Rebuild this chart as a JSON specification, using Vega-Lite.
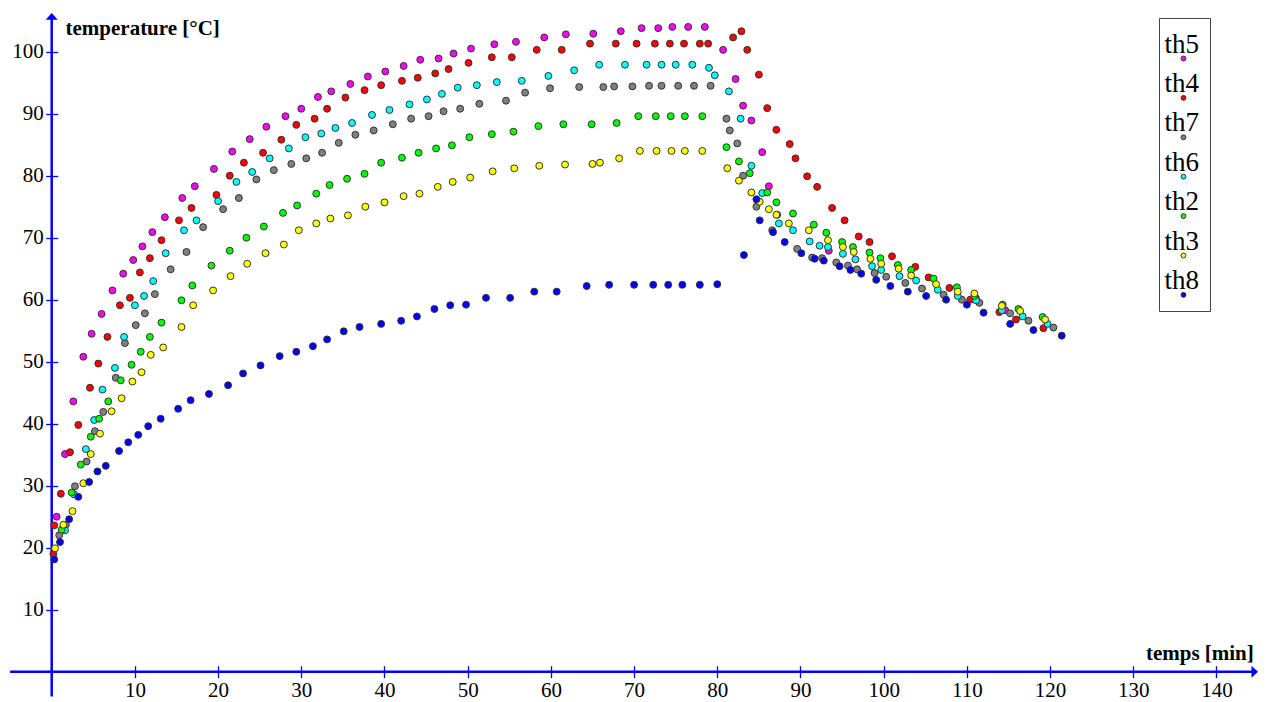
{
 "$schema": "https://vega.github.io/schema/vega-lite/v6.json",
 "width": 1267, "height": 702, "padding": 0, "autosize": {"type": "none"},
 "background": "white",
 "config": {"view": {"stroke": null}, "font": "Liberation Serif", "axis": {"grid": false}},
 "layer": [
  {
   "data": {"values": [{}]},
   "mark": {"type": "rule", "color": "#0000ff", "strokeWidth": 2.5},
   "encoding": {
    "x": {"datum": -5, "type": "quantitative"},
    "x2": {"datum": 144.6},
    "y": {"datum": 0, "type": "quantitative"}
   }
  },
  {
   "data": {"values": [{}]},
   "mark": {"type": "rule", "color": "#0000ff", "strokeWidth": 2.5},
   "encoding": {
    "x": {"datum": 0, "type": "quantitative"},
    "y": {"datum": -4, "type": "quantitative"},
    "y2": {"datum": 105.7}
   }
  },
  {
   "data": {"values": [{}]},
   "mark": {"type": "point", "filled": true, "color": "#0000ff", "opacity": 1, "size": 144, "shape": "M-0.55,-1L0.55,0L-0.55,1Z"},
   "encoding": {
    "x": {"datum": 144.6, "type": "quantitative"},
    "y": {"datum": 0, "type": "quantitative"}
   }
  },
  {
   "data": {"values": [{}]},
   "mark": {"type": "point", "filled": true, "color": "#0000ff", "opacity": 1, "size": 144, "shape": "M-1,0.55L0,-0.55L1,0.55Z"},
   "encoding": {
    "x": {"datum": 0, "type": "quantitative"},
    "y": {"datum": 105.7, "type": "quantitative"}
   }
  },
  {
   "data": {"values": [
{"s":"th5","t":0.6,"T":25.0},{"s":"th5","t":1.6,"T":35.1},{"s":"th5","t":2.6,"T":43.6},{"s":"th5","t":3.8,"T":50.8},{"s":"th5","t":4.8,"T":54.5},{"s":"th5","t":6.0,"T":57.7},{"s":"th5","t":7.3,"T":61.5},{"s":"th5","t":8.6,"T":64.2},{"s":"th5","t":9.8,"T":66.4},{"s":"th5","t":10.9,"T":68.6},{"s":"th5","t":12.1,"T":70.9},{"s":"th5","t":13.6,"T":73.3},{"s":"th5","t":15.7,"T":76.4},{"s":"th5","t":17.2,"T":78.3},{"s":"th5","t":19.5,"T":81.1},{"s":"th5","t":21.7,"T":83.9},{"s":"th5","t":23.8,"T":85.9},{"s":"th5","t":25.8,"T":87.9},{"s":"th5","t":28.1,"T":89.6},{"s":"th5","t":30.0,"T":90.8},{"s":"th5","t":32.0,"T":92.7},{"s":"th5","t":33.6,"T":93.6},{"s":"th5","t":35.9,"T":94.8},{"s":"th5","t":38.0,"T":96.0},{"s":"th5","t":40.1,"T":96.8},{"s":"th5","t":42.3,"T":97.7},{"s":"th5","t":44.3,"T":98.7},{"s":"th5","t":46.5,"T":98.9},{"s":"th5","t":48.3,"T":99.7},{"s":"th5","t":50.4,"T":100.5},{"s":"th5","t":53.2,"T":101.2},{"s":"th5","t":55.8,"T":101.6},{"s":"th5","t":59.2,"T":102.3},{"s":"th5","t":61.8,"T":102.8},{"s":"th5","t":65.1,"T":102.9},{"s":"th5","t":68.4,"T":103.3},{"s":"th5","t":70.9,"T":103.8},{"s":"th5","t":72.9,"T":103.8},{"s":"th5","t":74.6,"T":104.0},{"s":"th5","t":76.5,"T":104.0},{"s":"th5","t":78.5,"T":104.0},{"s":"th5","t":80.7,"T":100.3},{"s":"th5","t":82.2,"T":95.6},{"s":"th5","t":83.1,"T":91.3},{"s":"th5","t":84.1,"T":88.9},{"s":"th5","t":85.4,"T":83.8},{"s":"th5","t":86.2,"T":78.3},{"s":"th5","t":87.2,"T":73.7},{"s":"th5","t":93.4,"T":67.9},{"s":"th5","t":111.1,"T":60.2},{"s":"th5","t":114.6,"T":58.3},
{"s":"th4","t":0.2,"T":19.0},{"s":"th4","t":0.3,"T":23.6},{"s":"th4","t":1.1,"T":28.7},{"s":"th4","t":2.2,"T":35.4},{"s":"th4","t":3.2,"T":39.8},{"s":"th4","t":4.6,"T":45.8},{"s":"th4","t":5.6,"T":49.7},{"s":"th4","t":6.7,"T":54.0},{"s":"th4","t":8.2,"T":59.1},{"s":"th4","t":9.4,"T":60.3},{"s":"th4","t":10.6,"T":64.4},{"s":"th4","t":11.8,"T":66.7},{"s":"th4","t":13.2,"T":69.6},{"s":"th4","t":15.3,"T":72.8},{"s":"th4","t":16.8,"T":74.8},{"s":"th4","t":19.8,"T":76.9},{"s":"th4","t":21.4,"T":80.0},{"s":"th4","t":23.1,"T":82.1},{"s":"th4","t":25.4,"T":83.7},{"s":"th4","t":27.6,"T":85.8},{"s":"th4","t":29.4,"T":88.2},{"s":"th4","t":31.6,"T":89.2},{"s":"th4","t":33.1,"T":90.8},{"s":"th4","t":35.3,"T":92.6},{"s":"th4","t":37.6,"T":93.8},{"s":"th4","t":39.6,"T":94.6},{"s":"th4","t":42.1,"T":95.3},{"s":"th4","t":44.0,"T":95.8},{"s":"th4","t":46.1,"T":96.5},{"s":"th4","t":47.7,"T":97.2},{"s":"th4","t":50.1,"T":98.2},{"s":"th4","t":52.9,"T":99.1},{"s":"th4","t":55.3,"T":99.1},{"s":"th4","t":58.3,"T":100.3},{"s":"th4","t":61.3,"T":100.3},{"s":"th4","t":64.7,"T":101.3},{"s":"th4","t":67.8,"T":101.3},{"s":"th4","t":70.3,"T":101.3},{"s":"th4","t":72.5,"T":101.3},{"s":"th4","t":74.3,"T":101.3},{"s":"th4","t":76.0,"T":101.3},{"s":"th4","t":77.9,"T":101.3},{"s":"th4","t":78.9,"T":101.3},{"s":"th4","t":81.9,"T":102.3},{"s":"th4","t":82.9,"T":103.3},{"s":"th4","t":83.6,"T":100.3},{"s":"th4","t":85.0,"T":96.3},{"s":"th4","t":86.0,"T":90.9},{"s":"th4","t":87.1,"T":87.4},{"s":"th4","t":88.7,"T":85.1},{"s":"th4","t":89.4,"T":82.8},{"s":"th4","t":90.8,"T":79.9},{"s":"th4","t":92.0,"T":78.2},{"s":"th4","t":93.8,"T":74.8},{"s":"th4","t":95.3,"T":72.8},{"s":"th4","t":97.0,"T":70.2},{"s":"th4","t":98.3,"T":69.3},{"s":"th4","t":101.0,"T":67.0},{"s":"th4","t":103.8,"T":65.3},{"s":"th4","t":105.4,"T":63.6},{"s":"th4","t":107.9,"T":61.9},{"s":"th4","t":110.4,"T":60.0},{"s":"th4","t":113.9,"T":58.0},{"s":"th4","t":115.9,"T":56.8},{"s":"th4","t":119.2,"T":55.4},
{"s":"th7","t":0.9,"T":22.0},{"s":"th7","t":1.7,"T":23.7},{"s":"th7","t":2.8,"T":29.9},{"s":"th7","t":4.2,"T":33.9},{"s":"th7","t":5.2,"T":38.8},{"s":"th7","t":6.2,"T":41.9},{"s":"th7","t":7.7,"T":47.4},{"s":"th7","t":8.8,"T":53.0},{"s":"th7","t":10.1,"T":55.9},{"s":"th7","t":11.2,"T":57.8},{"s":"th7","t":12.4,"T":60.9},{"s":"th7","t":14.3,"T":64.9},{"s":"th7","t":16.2,"T":67.7},{"s":"th7","t":18.2,"T":71.7},{"s":"th7","t":20.6,"T":74.6},{"s":"th7","t":22.5,"T":76.4},{"s":"th7","t":24.6,"T":79.4},{"s":"th7","t":26.7,"T":80.9},{"s":"th7","t":28.8,"T":81.9},{"s":"th7","t":30.6,"T":82.8},{"s":"th7","t":32.5,"T":83.7},{"s":"th7","t":34.5,"T":85.3},{"s":"th7","t":36.5,"T":86.6},{"s":"th7","t":38.7,"T":87.3},{"s":"th7","t":41.0,"T":88.3},{"s":"th7","t":43.2,"T":89.2},{"s":"th7","t":45.3,"T":89.6},{"s":"th7","t":47.1,"T":90.4},{"s":"th7","t":49.1,"T":90.8},{"s":"th7","t":51.4,"T":91.6},{"s":"th7","t":54.6,"T":92.1},{"s":"th7","t":56.9,"T":93.4},{"s":"th7","t":59.9,"T":94.1},{"s":"th7","t":63.4,"T":94.3},{"s":"th7","t":66.3,"T":94.3},{"s":"th7","t":67.6,"T":94.4},{"s":"th7","t":69.8,"T":94.4},{"s":"th7","t":71.8,"T":94.5},{"s":"th7","t":73.3,"T":94.5},{"s":"th7","t":75.3,"T":94.5},{"s":"th7","t":77.2,"T":94.5},{"s":"th7","t":79.2,"T":94.5},{"s":"th7","t":81.1,"T":89.2},{"s":"th7","t":81.5,"T":87.3},{"s":"th7","t":82.4,"T":85.2},{"s":"th7","t":83.1,"T":80.0},{"s":"th7","t":84.7,"T":75.0},{"s":"th7","t":86.6,"T":71.2},{"s":"th7","t":89.6,"T":68.2},{"s":"th7","t":91.4,"T":66.8},{"s":"th7","t":92.6,"T":66.7},{"s":"th7","t":94.3,"T":66.0},{"s":"th7","t":95.7,"T":65.5},{"s":"th7","t":96.8,"T":64.9},{"s":"th7","t":98.9,"T":64.3},{"s":"th7","t":100.3,"T":63.7},{"s":"th7","t":102.6,"T":62.7},{"s":"th7","t":104.6,"T":61.8},{"s":"th7","t":107.2,"T":60.8},{"s":"th7","t":109.4,"T":60.0},{"s":"th7","t":111.5,"T":59.5},{"s":"th7","t":115.2,"T":57.8},{"s":"th7","t":117.4,"T":56.6},{"s":"th7","t":120.4,"T":55.5},
{"s":"th6","t":1.6,"T":22.8},{"s":"th6","t":2.7,"T":28.6},{"s":"th6","t":4.1,"T":35.9},{"s":"th6","t":5.1,"T":40.6},{"s":"th6","t":6.1,"T":45.5},{"s":"th6","t":7.6,"T":49.0},{"s":"th6","t":8.7,"T":54.0},{"s":"th6","t":10.0,"T":59.1},{"s":"th6","t":11.1,"T":60.6},{"s":"th6","t":12.2,"T":63.0},{"s":"th6","t":13.7,"T":67.5},{"s":"th6","t":15.9,"T":71.2},{"s":"th6","t":17.4,"T":72.8},{"s":"th6","t":20.0,"T":75.9},{"s":"th6","t":22.2,"T":79.0},{"s":"th6","t":24.1,"T":80.6},{"s":"th6","t":26.2,"T":82.8},{"s":"th6","t":28.5,"T":84.4},{"s":"th6","t":30.5,"T":86.2},{"s":"th6","t":32.4,"T":86.8},{"s":"th6","t":34.1,"T":87.7},{"s":"th6","t":36.1,"T":88.5},{"s":"th6","t":38.5,"T":89.8},{"s":"th6","t":40.6,"T":90.6},{"s":"th6","t":43.0,"T":91.5},{"s":"th6","t":45.1,"T":92.3},{"s":"th6","t":46.9,"T":93.2},{"s":"th6","t":48.8,"T":94.2},{"s":"th6","t":51.1,"T":94.6},{"s":"th6","t":53.5,"T":95.1},{"s":"th6","t":56.5,"T":95.3},{"s":"th6","t":59.7,"T":96.1},{"s":"th6","t":62.8,"T":97.0},{"s":"th6","t":65.8,"T":97.9},{"s":"th6","t":68.9,"T":97.9},{"s":"th6","t":71.5,"T":97.9},{"s":"th6","t":73.3,"T":97.9},{"s":"th6","t":75.0,"T":97.9},{"s":"th6","t":77.0,"T":97.9},{"s":"th6","t":79.0,"T":97.4},{"s":"th6","t":79.7,"T":96.2},{"s":"th6","t":81.4,"T":93.6},{"s":"th6","t":82.8,"T":89.2},{"s":"th6","t":84.1,"T":81.6},{"s":"th6","t":85.4,"T":77.2},{"s":"th6","t":87.4,"T":72.3},{"s":"th6","t":89.1,"T":71.2},{"s":"th6","t":91.1,"T":69.4},{"s":"th6","t":92.3,"T":68.7},{"s":"th6","t":93.3,"T":68.5},{"s":"th6","t":95.1,"T":67.4},{"s":"th6","t":96.6,"T":66.5},{"s":"th6","t":98.6,"T":65.4},{"s":"th6","t":99.7,"T":64.8},{"s":"th6","t":101.9,"T":63.8},{"s":"th6","t":103.9,"T":63.1},{"s":"th6","t":106.5,"T":61.6},{"s":"th6","t":108.9,"T":60.6},{"s":"th6","t":111.1,"T":59.9},{"s":"th6","t":114.2,"T":58.3},{"s":"th6","t":116.7,"T":57.3},{"s":"th6","t":119.7,"T":56.1},
{"s":"th2","t":1.2,"T":22.9},{"s":"th2","t":2.4,"T":28.9},{"s":"th2","t":3.5,"T":33.4},{"s":"th2","t":4.7,"T":37.9},{"s":"th2","t":5.7,"T":40.8},{"s":"th2","t":6.8,"T":43.6},{"s":"th2","t":8.3,"T":47.0},{"s":"th2","t":9.6,"T":49.5},{"s":"th2","t":10.7,"T":51.6},{"s":"th2","t":11.8,"T":54.0},{"s":"th2","t":13.2,"T":56.3},{"s":"th2","t":15.6,"T":59.9},{"s":"th2","t":16.9,"T":62.3},{"s":"th2","t":19.2,"T":65.5},{"s":"th2","t":21.4,"T":67.9},{"s":"th2","t":23.4,"T":70.0},{"s":"th2","t":25.5,"T":71.8},{"s":"th2","t":27.8,"T":74.0},{"s":"th2","t":29.5,"T":75.2},{"s":"th2","t":31.8,"T":77.1},{"s":"th2","t":33.4,"T":78.5},{"s":"th2","t":35.5,"T":79.5},{"s":"th2","t":37.6,"T":80.3},{"s":"th2","t":39.6,"T":82.1},{"s":"th2","t":42.1,"T":82.9},{"s":"th2","t":44.1,"T":83.7},{"s":"th2","t":46.2,"T":84.4},{"s":"th2","t":48.1,"T":84.9},{"s":"th2","t":50.2,"T":86.2},{"s":"th2","t":52.9,"T":86.7},{"s":"th2","t":55.5,"T":87.1},{"s":"th2","t":58.5,"T":88.0},{"s":"th2","t":61.5,"T":88.3},{"s":"th2","t":64.9,"T":88.3},{"s":"th2","t":67.9,"T":88.5},{"s":"th2","t":70.5,"T":89.6},{"s":"th2","t":72.6,"T":89.6},{"s":"th2","t":74.4,"T":89.6},{"s":"th2","t":76.1,"T":89.6},{"s":"th2","t":78.2,"T":89.6},{"s":"th2","t":81.1,"T":84.6},{"s":"th2","t":82.6,"T":82.3},{"s":"th2","t":83.9,"T":80.4},{"s":"th2","t":86.0,"T":77.3},{"s":"th2","t":87.1,"T":75.7},{"s":"th2","t":89.1,"T":73.9},{"s":"th2","t":91.6,"T":72.1},{"s":"th2","t":93.1,"T":70.8},{"s":"th2","t":95.0,"T":69.3},{"s":"th2","t":96.3,"T":68.5},{"s":"th2","t":98.3,"T":67.6},{"s":"th2","t":99.6,"T":66.7},{"s":"th2","t":101.7,"T":65.6},{"s":"th2","t":103.3,"T":64.8},{"s":"th2","t":106.0,"T":63.4},{"s":"th2","t":108.8,"T":62.0},{"s":"th2","t":110.9,"T":60.6},{"s":"th2","t":114.3,"T":59.2},{"s":"th2","t":116.2,"T":58.5},{"s":"th2","t":119.1,"T":57.2},
{"s":"th3","t":0.4,"T":19.9},{"s":"th3","t":1.4,"T":23.7},{"s":"th3","t":2.5,"T":25.9},{"s":"th3","t":3.8,"T":30.4},{"s":"th3","t":4.7,"T":35.1},{"s":"th3","t":5.8,"T":38.4},{"s":"th3","t":7.2,"T":42.0},{"s":"th3","t":8.4,"T":44.1},{"s":"th3","t":9.7,"T":46.8},{"s":"th3","t":10.8,"T":48.3},{"s":"th3","t":11.9,"T":51.1},{"s":"th3","t":13.4,"T":52.3},{"s":"th3","t":15.6,"T":55.6},{"s":"th3","t":17.0,"T":59.1},{"s":"th3","t":19.4,"T":61.5},{"s":"th3","t":21.5,"T":63.8},{"s":"th3","t":23.5,"T":65.8},{"s":"th3","t":25.7,"T":67.5},{"s":"th3","t":27.9,"T":68.9},{"s":"th3","t":29.7,"T":71.2},{"s":"th3","t":31.8,"T":72.3},{"s":"th3","t":33.5,"T":73.1},{"s":"th3","t":35.6,"T":73.6},{"s":"th3","t":37.7,"T":75.0},{"s":"th3","t":40.0,"T":75.7},{"s":"th3","t":42.3,"T":76.7},{"s":"th3","t":44.2,"T":77.1},{"s":"th3","t":46.4,"T":78.2},{"s":"th3","t":48.2,"T":79.0},{"s":"th3","t":50.3,"T":79.7},{"s":"th3","t":53.0,"T":80.7},{"s":"th3","t":55.6,"T":81.2},{"s":"th3","t":58.6,"T":81.6},{"s":"th3","t":61.7,"T":81.8},{"s":"th3","t":65.0,"T":81.9},{"s":"th3","t":65.9,"T":82.1},{"s":"th3","t":68.2,"T":82.8},{"s":"th3","t":70.7,"T":84.0},{"s":"th3","t":72.7,"T":84.0},{"s":"th3","t":74.5,"T":84.0},{"s":"th3","t":76.1,"T":84.0},{"s":"th3","t":78.2,"T":84.0},{"s":"th3","t":81.2,"T":81.2},{"s":"th3","t":82.6,"T":79.2},{"s":"th3","t":84.1,"T":77.3},{"s":"th3","t":85.1,"T":75.8},{"s":"th3","t":86.2,"T":74.6},{"s":"th3","t":87.1,"T":73.7},{"s":"th3","t":88.6,"T":72.3},{"s":"th3","t":91.0,"T":71.2},{"s":"th3","t":93.3,"T":69.6},{"s":"th3","t":95.1,"T":68.5},{"s":"th3","t":96.4,"T":67.7},{"s":"th3","t":98.4,"T":66.6},{"s":"th3","t":99.7,"T":65.8},{"s":"th3","t":101.8,"T":65.0},{"s":"th3","t":103.3,"T":63.9},{"s":"th3","t":106.3,"T":62.5},{"s":"th3","t":108.9,"T":61.3},{"s":"th3","t":110.9,"T":61.0},{"s":"th3","t":114.2,"T":59.0},{"s":"th3","t":116.4,"T":58.2},{"s":"th3","t":119.4,"T":56.8},
{"s":"th8","t":0.3,"T":18.1},{"s":"th8","t":1.0,"T":20.9},{"s":"th8","t":2.1,"T":24.6},{"s":"th8","t":3.2,"T":28.2},{"s":"th8","t":4.5,"T":30.6},{"s":"th8","t":5.5,"T":32.3},{"s":"th8","t":6.5,"T":33.2},{"s":"th8","t":8.1,"T":35.6},{"s":"th8","t":9.2,"T":37.0},{"s":"th8","t":10.4,"T":38.2},{"s":"th8","t":11.6,"T":39.6},{"s":"th8","t":13.1,"T":40.8},{"s":"th8","t":15.2,"T":42.4},{"s":"th8","t":16.7,"T":43.8},{"s":"th8","t":18.9,"T":44.8},{"s":"th8","t":21.2,"T":46.2},{"s":"th8","t":23.0,"T":48.1},{"s":"th8","t":25.1,"T":49.4},{"s":"th8","t":27.4,"T":50.9},{"s":"th8","t":29.4,"T":51.6},{"s":"th8","t":31.4,"T":52.5},{"s":"th8","t":33.1,"T":53.6},{"s":"th8","t":35.1,"T":54.9},{"s":"th8","t":37.0,"T":55.6},{"s":"th8","t":39.6,"T":56.1},{"s":"th8","t":42.0,"T":56.6},{"s":"th8","t":43.9,"T":57.3},{"s":"th8","t":46.0,"T":58.5},{"s":"th8","t":47.9,"T":59.1},{"s":"th8","t":49.8,"T":59.2},{"s":"th8","t":52.2,"T":60.3},{"s":"th8","t":55.1,"T":60.3},{"s":"th8","t":58.0,"T":61.3},{"s":"th8","t":60.7,"T":61.3},{"s":"th8","t":64.3,"T":62.2},{"s":"th8","t":67.0,"T":62.4},{"s":"th8","t":70.0,"T":62.4},{"s":"th8","t":72.3,"T":62.4},{"s":"th8","t":74.1,"T":62.4},{"s":"th8","t":75.8,"T":62.4},{"s":"th8","t":77.9,"T":62.4},{"s":"th8","t":80.0,"T":62.5},{"s":"th8","t":83.2,"T":67.2},{"s":"th8","t":84.7,"T":76.2},{"s":"th8","t":85.1,"T":72.8},{"s":"th8","t":86.7,"T":70.9},{"s":"th8","t":88.1,"T":69.3},{"s":"th8","t":90.1,"T":67.5},{"s":"th8","t":91.7,"T":66.6},{"s":"th8","t":92.8,"T":66.3},{"s":"th8","t":94.7,"T":65.4},{"s":"th8","t":96.0,"T":64.8},{"s":"th8","t":97.3,"T":64.2},{"s":"th8","t":99.1,"T":63.2},{"s":"th8","t":100.8,"T":62.2},{"s":"th8","t":102.9,"T":61.3},{"s":"th8","t":105.1,"T":60.6},{"s":"th8","t":107.5,"T":60.0},{"s":"th8","t":110.0,"T":59.2},{"s":"th8","t":112.0,"T":57.9},{"s":"th8","t":115.2,"T":56.1},{"s":"th8","t":118.0,"T":55.1},{"s":"th8","t":121.4,"T":54.2}
   ]},
   "mark": {"type": "point", "filled": true, "opacity": 1, "size": 48, "stroke": "#333333", "strokeWidth": 1},
   "encoding": {
    "x": {"field": "t", "type": "quantitative",
     "scale": {"domain": [-6.214, 146.07], "nice": false, "zero": false},
     "axis": {"orient": "bottom", "offset": -36.3, "domain": false, "grid": false,
      "values": [10,20,30,40,50,60,70,80,90,100,110,120,130,140],
      "tickSize": 12, "tickColor": "#0000ff", "tickWidth": 1.3,
      "labelFont": "Liberation Serif", "labelFontSize": 21, "labelColor": "#000000", "labelPadding": 2, "labelFlush": false, "labelOverlap": false,
      "title": "temps [min]", "titleFont": "Liberation Serif", "titleFontSize": 21, "titleFontWeight": "bold", "titleColor": "#000000",
      "titleX": 1253.3, "titleY": -6.7, "titleAlign": "right", "titleBaseline": "alphabetic", "titleAngle": 0}},
    "y": {"field": "T", "type": "quantitative",
     "scale": {"domain": [-4.887, 108.34], "nice": false, "zero": false},
     "axis": {"orient": "left", "offset": -57.7, "domain": false, "grid": false,
      "values": [10,20,30,40,50,60,70,80,90,100],
      "tickSize": 12, "tickColor": "#0000ff", "tickWidth": 1.3,
      "labelFont": "Liberation Serif", "labelFontSize": 21, "labelColor": "#000000", "labelPadding": 2.4, "labelFlush": false, "labelOverlap": false,
      "title": "temperature [°C]", "titleFont": "Liberation Serif", "titleFontSize": 21, "titleFontWeight": "bold", "titleColor": "#000000",
      "titleX": 7.3, "titleY": 34.5, "titleAlign": "left", "titleBaseline": "alphabetic", "titleAngle": 0}},
    "color": {"field": "s", "type": "nominal",
     "scale": {"domain": ["th5","th4","th7","th6","th2","th3","th8"], "range": ["#ff00ff","#ff0000","#808080","#00ffff","#00ff00","#ffff00","#0000ff"]},
     "legend": {"orient": "none", "legendX": 1159, "legendY": 18, "title": " ", "titleFontSize": 8, "titlePadding": 8, "strokeColor": "#444444", "fillColor": "#ffffff", "padding": 11,
      "labelFont": "Liberation Serif", "labelFontSize": 27, "labelColor": "#000000", "labelAlign": "center", "labelBaseline": "bottom", "labelOffset": -15.3,
      "symbolType": "circle", "symbolSize": 24, "symbolStrokeColor": "#333333", "symbolStrokeWidth": 1, "rowPadding": 6.4}}
   }
  }
 ]
}
